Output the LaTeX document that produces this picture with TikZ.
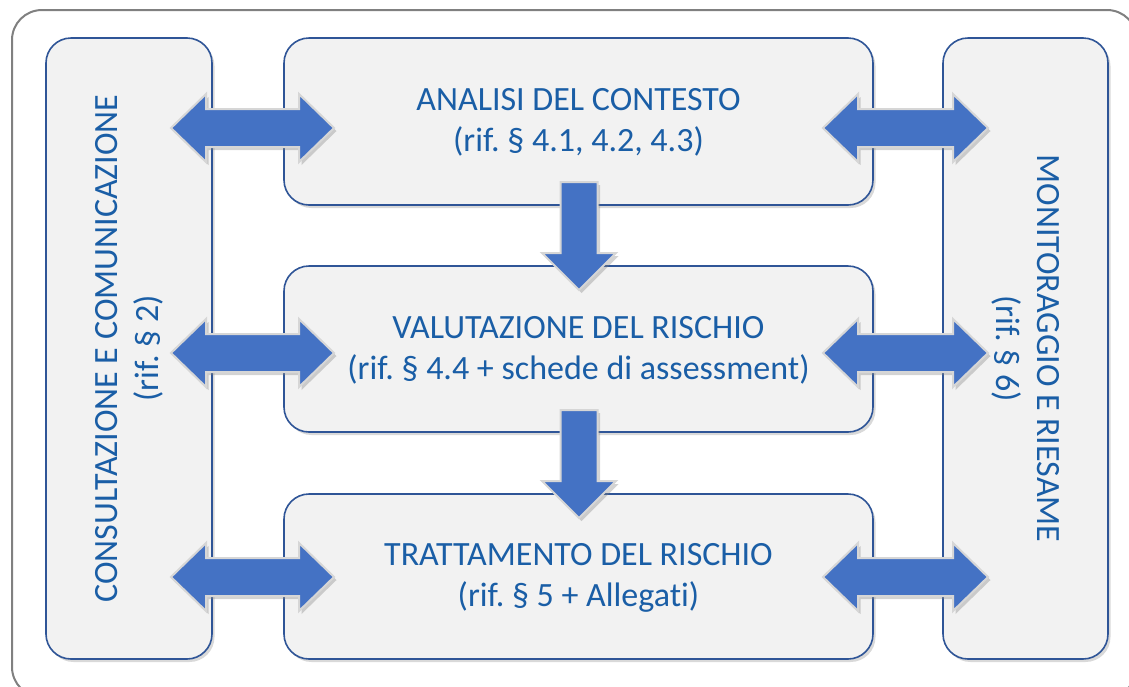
\documentclass[tikz,border=0pt]{standalone}
\usepackage{fontspec}
\setmainfont[Ligatures={NoCommon}]{Carlito}
\frenchspacing
\usetikzlibrary{shadows}
\definecolor{boxblue}{HTML}{2F5597}
\definecolor{boxgray}{HTML}{F2F2F2}
\definecolor{txtblue}{HTML}{1A5EA6}
\definecolor{arrblue}{HTML}{4472C4}
\definecolor{arredge}{HTML}{D6D6D6}
\definecolor{framegray}{HTML}{808080}
\tikzset{
  panel/.style={draw=boxblue, line width=1.6pt, fill=boxgray, rounded corners=25pt,
    inner sep=0pt, drop shadow={opacity=0.3, shadow xshift=2.5pt, shadow yshift=-3pt}},
  label/.style={text=txtblue, align=center, font=\fontsize{34}{41}\selectfont\frenchspacing, inner sep=0pt},
  blockarrow/.style={fill=arrblue, draw=arredge, line width=2pt, line join=miter,
    drop shadow={opacity=0.35, shadow xshift=2.5pt, shadow yshift=-3pt}},
}
% horizontal double arrow: left tip x, right tip x, centre y
\newcommand{\dblarrowH}[3]{%
  \draw[blockarrow] (#1,#3) -- (#1+35,#3-34) -- (#1+35,#3-19) -- (#2-35,#3-19)
    -- (#2-35,#3-34) -- (#2,#3) -- (#2-35,#3+34) -- (#2-35,#3+19)
    -- (#1+35,#3+19) -- (#1+35,#3+34) -- cycle;}
% downward arrow: centre x, top y, tip y
\newcommand{\downarrowV}[3]{%
  \draw[blockarrow] (#1-18.5,#2) -- (#1+18.5,#2) -- (#1+18.5,#3-37) -- (#1+37,#3-37)
    -- (#1,#3) -- (#1-37,#3-37) -- (#1-18.5,#3-37) -- cycle;}
\begin{document}
\begin{tikzpicture}[x=1pt, y=-1pt]
\useasboundingbox (0,0) rectangle (1129,686);
\begin{scope}
  \clip (0,0) rectangle (1129,686);
  \draw[framegray, line width=2pt, rounded corners=30pt] (12,10) rectangle (1137,697);
\end{scope}

% panels
\node[panel, minimum width=166, minimum height=621] (cons) at (129,348.5) {};
\node[panel, minimum width=165, minimum height=621] (monit) at (1025.5,348.5) {};
\node[panel, minimum width=589, minimum height=167] (anal) at (578.5,121.5) {};
\node[panel, minimum width=589, minimum height=166] (valut) at (578.5,349) {};
\node[panel, minimum width=589, minimum height=165] (tratt) at (578.5,576.5) {};

% texts
\node[label] (analT) at ([yshift=-1pt]anal.center) {ANALISI DEL CONTESTO\\(rif.\ § 4.1, 4.2, 4.3)};
\node[label] (valutT) at ([yshift=-1pt]valut.center) {VALUTAZIONE DEL RISCHIO\\(rif.\ § 4.4 + schede di assessment)};
\node[label] (trattT) at ([yshift=-1pt]tratt.center) {TRATTAMENTO DEL RISCHIO\\(rif.\ § 5 + Allegati)};
\node[label, rotate=90] (consT) at (cons.center) {CONSULTAZIONE E COMUNICAZIONE\\(rif.\ § 2)};
\node[label, rotate=-90] (monitT) at (monit.center) {MONITORAGGIO E RIESAME\\(rif.\ § 6)};

% arrows
\dblarrowH{171}{334}{128}
\dblarrowH{171}{334}{353}
\dblarrowH{171}{334}{577}
\dblarrowH{823}{988}{128}
\dblarrowH{823}{988}{353}
\dblarrowH{823}{988}{577}
\downarrowV{579}{182}{290}
\downarrowV{579}{410}{518}
\end{tikzpicture}
\end{document}
